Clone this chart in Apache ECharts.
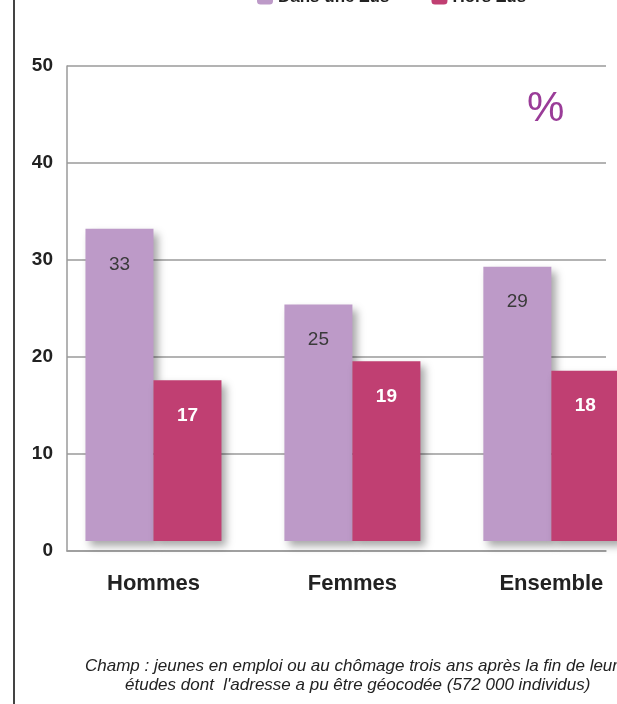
<!DOCTYPE html>
<html>
<head>
<meta charset="utf-8">
<script src="https://cdn.jsdelivr.net/npm/echarts@6/dist/echarts.min.js"></script>
<style>
  html, body { margin: 0; padding: 0; background: #fff; }
  #chart-container { width: 617px; height: 704px; }
</style>
</head>
<body>
<div id="chart-container"></div>
<script>
const categories = ["Hommes", "Femmes", "Ensemble"]
const seriesNames = ["Dans une Zus", "Hors Zus"]
const dansZus = [33, 25, 29]
const horsZus = [17, 19, 18]
const yTicks = [0, 10, 20, 30, 40, 50]
const footnote = [
  "Champ : jeunes en emploi ou au chômage trois ans après la fin de leurs",
  "études dont  l'adresse a pu être géocodée (572 000 individus)"
]

const lilac = "#bd9ac8"
const crimson = "#c03f72"
const font = "'Liberation Sans', Arial, sans-serif"

var dom = document.getElementById("chart-container")
var myChart = echarts.init(dom, null, { renderer: "canvas" })

// category index -> x position on the (value) bar axis
const toPoints = (values) => values.map((v, i) => [i, v])

const barShadow = {
  shadowBlur: 8,
  shadowColor: "rgba(0,0,0,0.35)",
  shadowOffsetX: 5,
  shadowOffsetY: 5
}

const commonBar = {
  type: "bar",
  xAxisIndex: 1,
  yAxisIndex: 1,
  barWidth: 68,
  barGap: "0%",
  z: 3
}

var option = {
  animation: false,
  backgroundColor: "#fff",
  textStyle: { fontFamily: font },
  color: [lilac, crimson],
  legend: {
    data: seriesNames,
    left: 252,
    top: -16,
    itemWidth: 16,
    itemHeight: 14,
    itemGap: 42,
    textStyle: { fontSize: 17, fontWeight: "bold", color: "#222" }
  },
  title: {
    text: "%",
    left: 522,
    top: 83,
    textStyle: { fontSize: 42, fontWeight: "normal", color: "#9a3c98", fontFamily: font }
  },
  grid: [
    { left: 67, right: 11, top: 66, bottom: 153 },
    { left: 54, right: 0, top: 68, bottom: 163 }
  ],
  xAxis: [
    {
      gridIndex: 0,
      type: "category",
      data: categories,
      axisLine: { show: true, lineStyle: { color: "#9a9a9a", width: 1.5 } },
      axisTick: { show: false },
      axisLabel: { show: false },
      splitLine: { show: false }
    },
    {
      gridIndex: 1,
      type: "value",
      min: -0.5,
      max: 2.33,
      axisLine: { show: false },
      axisTick: { show: false },
      splitLine: { show: false },
      axisLabel: {
        customValues: [0, 1, 2],
        formatter: (v) => categories[Math.round(v)],
        margin: 32,
        fontSize: 22,
        fontWeight: "bold",
        color: "#222",
        fontFamily: font
      }
    }
  ],
  yAxis: [
    {
      gridIndex: 0,
      type: "value",
      min: yTicks[0],
      max: yTicks[yTicks.length - 1],
      interval: 10,
      axisLine: { show: true, lineStyle: { color: "#9a9a9a", width: 1.5 } },
      axisTick: { show: false },
      axisLabel: {
        margin: 14,
        fontSize: 19,
        fontWeight: "bold",
        color: "#222",
        fontFamily: font
      },
      splitLine: { show: true, lineStyle: { color: "#9a9a9a", width: 1.5 } }
    },
    {
      gridIndex: 1,
      type: "value",
      min: yTicks[0],
      max: yTicks[yTicks.length - 1],
      show: false,
      splitLine: { show: false }
    }
  ],
  series: [
    {
      ...commonBar,
      name: seriesNames[0],
      data: toPoints(dansZus),
      itemStyle: { color: lilac, ...barShadow },
      label: {
        show: true,
        position: "insideTop",
        distance: 26,
        fontSize: 19,
        color: "#3a3a3a",
        fontFamily: font,
        formatter: (p) => p.value[1]
      }
    },
    {
      ...commonBar,
      name: seriesNames[1],
      data: toPoints(horsZus),
      itemStyle: { color: crimson, ...barShadow },
      label: {
        show: true,
        position: "insideTop",
        distance: 26,
        fontSize: 19,
        fontWeight: "bold",
        color: "#fff",
        fontFamily: font,
        formatter: (p) => p.value[1]
      }
    }
  ],
  graphic: [
    {
      type: "rect",
      shape: { x: 13, y: 0, width: 2, height: 704 },
      style: { fill: "#444" },
      silent: true
    },
    {
      type: "text",
      left: 85,
      top: 658,
      style: { text: footnote[0], font: "italic 17px " + font, fill: "#222" }
    },
    {
      type: "text",
      left: 125,
      top: 677,
      style: { text: footnote[1], font: "italic 17px " + font, fill: "#222" }
    }
  ]
}

myChart.setOption(option)
window.addEventListener("resize", myChart.resize)
</script>
</body>
</html>
